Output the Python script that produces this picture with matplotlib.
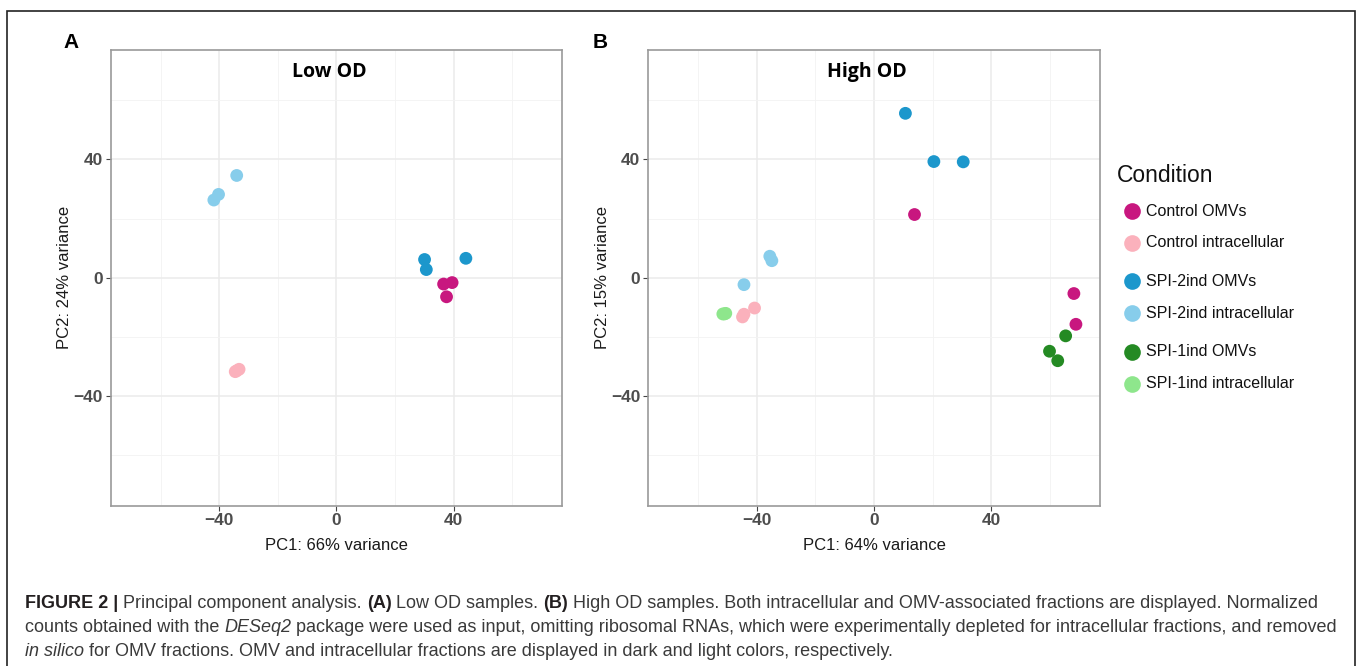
import matplotlib
matplotlib.use("Agg")
from matplotlib import pyplot as plt
from matplotlib.lines import Line2D
from matplotlib.patches import Rectangle
from matplotlib.transforms import IdentityTransform

plt.rcParams["font.family"] = ["Liberation Sans", "DejaVu Sans"]

# conditions and colours
conditions = ["Control OMVs", "Control intracellular",
              "SPI-2ind OMVs", "SPI-2ind intracellular",
              "SPI-1ind OMVs", "SPI-1ind intracellular"]
colors = ["#C8177F", "#FBB1BC", "#1C97CC", "#87CDEB", "#248A23", "#8EE68C"]

# Low OD PCA scores (PC1, PC2) per condition
low_pc1 = {
    "Control OMVs": [36.6, 39.5, 37.6],
    "Control intracellular": [-34.5, -33.2, -34.0],
    "SPI-2ind OMVs": [30.1, 30.7, 44.2],
    "SPI-2ind intracellular": [-34.0, -40.2, -41.8],
}
low_pc2 = {
    "Control OMVs": [-2.1, -1.6, -6.4],
    "Control intracellular": [-31.7, -30.9, -31.4],
    "SPI-2ind OMVs": [6.2, 2.8, 6.6],
    "SPI-2ind intracellular": [34.6, 28.2, 26.3],
}

# High OD PCA scores
high_pc1 = {
    "Control OMVs": [13.8, 68.1, 68.8],
    "Control intracellular": [-40.7, -44.8, -44.3],
    "SPI-2ind OMVs": [10.7, 20.4, 30.4],
    "SPI-2ind intracellular": [-35.5, -34.8, -44.3],
    "SPI-1ind OMVs": [65.3, 59.8, 62.6],
    "SPI-1ind intracellular": [-51.5, -50.5, -51.0],
}
high_pc2 = {
    "Control OMVs": [21.4, -5.3, -15.7],
    "Control intracellular": [-10.2, -13.2, -12.3],
    "SPI-2ind OMVs": [55.6, 39.3, 39.2],
    "SPI-2ind intracellular": [7.3, 5.8, -2.3],
    "SPI-1ind OMVs": [-19.6, -24.8, -28.0],
    "SPI-1ind intracellular": [-12.2, -12.0, -12.2],
}

# caption pieces: (text, weight, style)
caption = [
    [("FIGURE 2 |", "bold", "normal"), (" Principal component analysis. ", "normal", "normal"),
     ("(A)", "bold", "normal"), (" Low OD samples. ", "normal", "normal"),
     ("(B)", "bold", "normal"),
     (" High OD samples. Both intracellular and OMV-associated fractions are displayed. Normalized",
      "normal", "normal")],
    [("counts obtained with the ", "normal", "normal"), ("DESeq2", "normal", "italic"),
     (" package were used as input, omitting ribosomal RNAs, which were experimentally depleted "
      "for intracellular fractions, and removed", "normal", "normal")],
    [("in silico", "normal", "italic"),
     (" for OMV fractions. OMV and intracellular fractions are displayed in dark and light colors, "
      "respectively.", "normal", "normal")],
]

W, H = 1357, 666
fig = plt.figure(figsize=(W / 100, H / 100), dpi=100)


def px_axes(x0, y0, x1, y1):
    return fig.add_axes([x0 / W, 1 - y1 / H, (x1 - x0) / W, (y1 - y0) / H])


def style_panel(ax, title, xlabel, ylabel):
    ax.set_xlim(-77, 77)
    ax.set_ylim(-77, 77)
    ax.set_xticks([-40, 0, 40])
    ax.set_yticks([-40, 0, 40])
    ax.set_xticks([-60, -20, 20, 60], minor=True)
    ax.set_yticks([-60, -20, 20, 60], minor=True)
    ax.grid(True, which="major", color="#EBEBEB", linewidth=1.1)
    ax.grid(True, which="minor", color="#F3F3F3", linewidth=0.6)
    ax.set_axisbelow(True)
    for s in ax.spines.values():
        s.set_color("#9A9A9A")
        s.set_linewidth(1.2)
    ax.tick_params(which="major", length=3.5, color="#444444", labelsize=12.5,
                   labelcolor="#4D4D4D", pad=2)
    ax.tick_params(which="minor", length=0)
    for lab in ax.get_xticklabels() + ax.get_yticklabels():
        lab.set_fontweight("bold")
        lab.set_fontsize(12.5)
    ax.set_xlabel(xlabel, fontsize=12, color="#1A1A1A", labelpad=7)
    ax.set_ylabel(ylabel, fontsize=12, color="#1A1A1A", labelpad=1)
    ax.text(0.485, 0.952, title, transform=ax.transAxes, ha="center", va="center",
            fontsize=14, fontweight="bold", family=["Open Sans", "DejaVu Sans"])


axA = px_axes(110.7, 50, 562, 505.7)
for cond, col in zip(conditions, colors):
    if cond in low_pc1:
        axA.scatter(low_pc1[cond], low_pc2[cond], s=85, color=col, edgecolors="none", zorder=3)
style_panel(axA, "Low OD", "PC1: 66% variance", "PC2: 24% variance")

axB = px_axes(648, 50, 1100, 505.7)
for cond, col in zip(conditions, colors):
    axB.scatter(high_pc1[cond], high_pc2[cond], s=85, color=col, edgecolors="none", zorder=3)
style_panel(axB, "High OD", "PC1: 64% variance", "PC2: 15% variance")

# panel letters
fig.text(71 / W, 1 - 42.5 / H, "A", ha="center", va="center", fontsize=15, fontweight="bold")
fig.text(600 / W, 1 - 42.5 / H, "B", ha="center", va="center", fontsize=15, fontweight="bold")

# legend
fig.text(1117 / W, 1 - 175 / H, "Condition", ha="left", va="center", fontsize=16.5, color="#111111")
for i, (cond, col) in enumerate(zip(conditions, colors)):
    yy = 211 + i * 31.5 + (i // 2) * 7.5
    fig.add_artist(Line2D([1132 / W], [1 - yy / H], marker="o", markersize=12,
                          color=col, markeredgewidth=0, linestyle="none"))
    fig.text(1146 / W, 1 - yy / H, cond, ha="left", va="center", fontsize=11.5, color="#111111")

# frame
fig.add_artist(Rectangle((7 / W, -0.05), (1355 - 7) / W, 1.05 - 11 / H,
                         transform=fig.transFigure, fill=False, edgecolor="#222222",
                         linewidth=1.2))

# caption, placed piece by piece in pixel coordinates
cap_size = 13.0
renderer = fig.canvas.get_renderer()


def text_width(s, weight, style):
    t = fig.text(0, 0, s, fontsize=cap_size, fontweight=weight, fontstyle=style,
                 transform=IdentityTransform())
    w = t.get_window_extent(renderer).width
    t.remove()
    return w


for k, parts in enumerate(caption):
    x = 25
    y = H - (608 + k * 24)
    for txt, weight, style in parts:
        space = text_width("x x", weight, style) - text_width("xx", weight, style)
        lead = len(txt) - len(txt.lstrip(" "))
        trail = len(txt) - len(txt.rstrip(" "))
        x += lead * space
        col = "#231F20" if weight == "bold" else "#3A3A3A"
        t = fig.text(x, y, txt.strip(" "), fontsize=cap_size, fontweight=weight,
                     fontstyle=style, color=col, ha="left", va="baseline",
                     transform=IdentityTransform())
        x = t.get_window_extent(renderer).x1 + trail * space

fig.savefig("out.png", dpi=100)
